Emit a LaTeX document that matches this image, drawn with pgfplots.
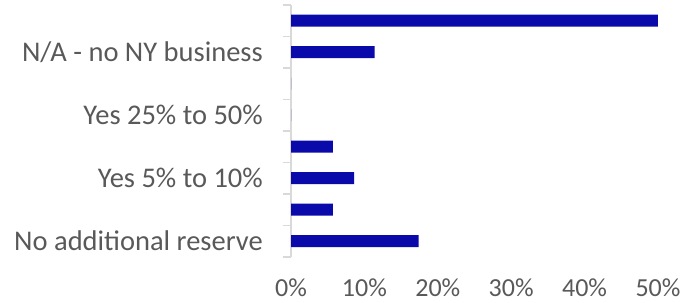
\documentclass[border=0pt]{standalone}
\usepackage{pgfplots}
\pgfplotsset{compat=1.18}
\usepackage{fontspec}
\setmainfont{Carlito}
\definecolor{barblue}{RGB}{10,10,170}
\definecolor{txtgray}{RGB}{89,89,89}
\definecolor{axgray}{RGB}{217,217,217}
\begin{document}
\begin{tikzpicture}
\useasboundingbox (0,0) rectangle (685bp,303bp);
\begin{axis}[
  at={(291bp,46bp)}, anchor=south west,
  scale only axis, width=367bp, height=252bp,
  xmin=0, xmax=50, ymin=-0.5, ymax=7.5,
  xbar, bar width=12bp,
  axis x line=none,
  axis y line*=left,
  y axis line style={axgray, line width=1.5bp, -},
  ytick={0,...,7},
  yticklabels={No additional reserve,,Yes 5\% to 10\%,,Yes 25\% to 50\%,,N/A - no NY business,},
  major tick length=0pt,
  minor ytick={-0.5,0.5,...,7.5},
  minor tick length=8bp,
  tick align=outside,
  minor tick style={axgray, line width=1.5bp},
  yticklabel style={anchor=base east, inner sep=0pt, xshift=-28bp, yshift=-9.2bp,
     font=\fontsize{28.5bp}{30bp}\selectfont, text=txtgray},
  clip=false,
]
\addplot[fill=barblue, draw=none] coordinates {
 (17.4,0) (5.7,1) (8.6,2) (5.7,3) (0,4) (0,5) (11.4,6) (50,7)
};
\end{axis}
\begin{axis}[
  at={(291bp,46bp)}, anchor=south west,
  scale only axis, width=367bp, height=252bp,
  xmin=0, xmax=50, ymin=0, ymax=1,
  axis y line=none, axis x line*=bottom,
  x axis line style={draw=none},
  xtick={0,10,...,50},
  major tick length=0pt,
  xticklabel={\pgfmathprintnumber{\tick}\%},
  /pgf/number format/assume math mode=true,
  xticklabel style={anchor=base, inner sep=0pt, yshift=-39bp,
     font=\fontsize{26bp}{28bp}\selectfont, text=txtgray},
]
\end{axis}
\end{tikzpicture}
\end{document}
